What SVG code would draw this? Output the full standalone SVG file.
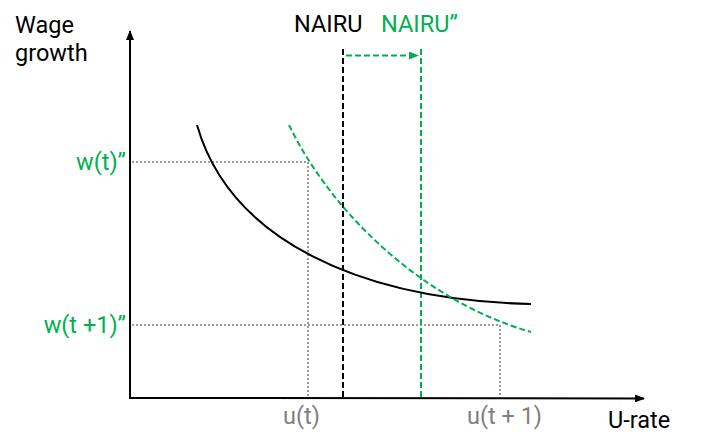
<svg xmlns="http://www.w3.org/2000/svg" width="707" height="448" viewBox="0 0 707 448">
<style>
text{font-family:Roboto,"Liberation Sans",sans-serif;font-size:23.5px}
.blk{fill:#000}
.grn{fill:#00B050}
.gry{fill:#808080}
.axis{stroke:#000;stroke-width:2;fill:none}
.dot{stroke:#808080;stroke-width:1.6;stroke-dasharray:2 2;fill:none}
.bdash{stroke:#000;stroke-width:2;stroke-dasharray:6 3;fill:none}
.gdash{stroke:#00B050;stroke-width:2;stroke-dasharray:6 3;fill:none}
</style>
<defs>
<marker id="ab" markerWidth="10" markerHeight="8" refX="9" refY="4" orient="auto" markerUnits="userSpaceOnUse"><path d="M0,0 L10,4 L0,8 z" fill="#000"/></marker>
<marker id="ag" markerWidth="10" markerHeight="8" refX="9" refY="4" orient="auto" markerUnits="userSpaceOnUse"><path d="M0,0 L10,4 L0,8 z" fill="#00B050"/></marker>
</defs>
<rect width="707" height="448" fill="#fff"/>
<g id="connectors">
<line class="dot" x1="132" y1="162" x2="308" y2="162"/>
<line class="dot" x1="308" y1="162" x2="308" y2="397"/>
<line class="dot" x1="132" y1="325" x2="500" y2="325"/>
<line class="dot" x1="500" y1="325" x2="500" y2="397"/>
<line class="bdash" x1="343" y1="49" x2="343" y2="397"/>
<line class="gdash" x1="421" y1="49" x2="421" y2="397"/>
<line class="gdash" x1="346" y1="55.5" x2="418" y2="55.5" marker-end="url(#ag)"/>
<path id="curve" d="M197,125 C230,240 360,300 531,304" fill="none" stroke="#000" stroke-width="2"/>
<path id="curve2" class="gdash" d="M289,125 C330,210 420,300 531,332"/>
<line class="axis" x1="130" y1="398" x2="130" y2="31" marker-end="url(#ab)"/>
<line class="axis" x1="129" y1="398" x2="644" y2="398.5" marker-end="url(#ab)"/>
</g>
<g id="labels">
<text class="blk" x="15" y="33">Wage</text>
<text class="blk" x="15" y="61">growth</text>
<text class="blk" x="294" y="32">NAIRU</text>
<text class="grn" x="381" y="32">NAIRU”</text>
<text class="grn" x="126" y="170" text-anchor="end">w(t)”</text>
<text class="grn" x="126" y="333" text-anchor="end">w(t +1)”</text>
<text class="gry" x="301.5" y="424" text-anchor="middle">u(t)</text>
<text class="gry" x="504.5" y="424" text-anchor="middle">u(t + 1)</text>
<text class="blk" x="608" y="428">U-rate</text>
</g>
</svg>
